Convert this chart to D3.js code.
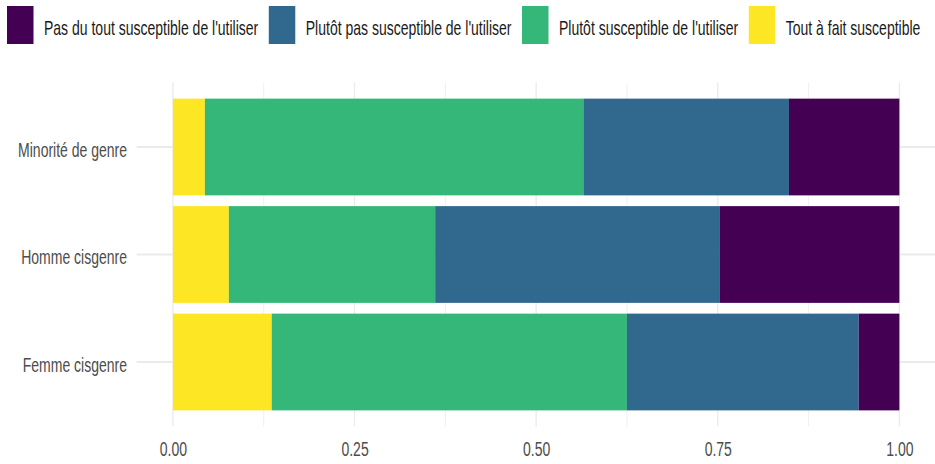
<!DOCTYPE html>
<html>
<head>
<meta charset="utf-8">
<script src="https://cdn.jsdelivr.net/npm/d3@7"></script>
<style>
  html, body { margin: 0; padding: 0; background: #ffffff; }
  svg { display: block; font-family: "Liberation Sans", Arial, sans-serif; }
</style>
</head>
<body>
<svg id="chart" width="935" height="464"></svg>
<script>
// ---- data ----
const categories = ["Minorité de genre", "Homme cisgenre", "Femme cisgenre"];
const seriesNames = [
  "Pas du tout susceptible de l'utiliser",
  "Plutôt pas susceptible de l'utiliser",
  "Plutôt susceptible de l'utiliser",
  "Tout à fait susceptible"
];
const seriesColors = ["#440154", "#31688E", "#35B779", "#FDE725"];
const pasDuTout = [0.152, 0.247, 0.056];
const plutotPas = [0.283, 0.392, 0.319];
const plutot = [0.521, 0.284, 0.489];
const toutAFait = [0.044, 0.077, 0.136];
const xTickValues = [0, 0.25, 0.5, 0.75, 1];
const xTickLabels = ["0.00", "0.25", "0.50", "0.75", "1.00"];

// ---- layout ----
const svg = d3.select("#chart");
const SY = 1.42; // vertical text stretch
const panel = { left: 136.6, right: 935.7, top: 82.5, bottom: 426.5 };

const x = d3.scaleLinear().domain([-0.05, 1.05]).range([panel.left, panel.right]);
const y = d3.scaleBand().domain(categories)
  .range([panel.top, panel.bottom]).paddingInner(0.1).paddingOuter(0.15);

// ---- grid ----
const grid = svg.append("g");
const minor = [0.125, 0.375, 0.625, 0.875];
grid.selectAll("line.minor").data(minor).join("line")
  .attr("x1", d => x(d)).attr("x2", d => x(d))
  .attr("y1", panel.top).attr("y2", panel.bottom)
  .attr("stroke", "#f0f0f0").attr("stroke-width", 1);
grid.selectAll("line.major").data(xTickValues).join("line")
  .attr("x1", d => x(d)).attr("x2", d => x(d))
  .attr("y1", panel.top).attr("y2", panel.bottom)
  .attr("stroke", "#ebebeb").attr("stroke-width", 1.3);
grid.selectAll("line.h").data(categories).join("line")
  .attr("x1", panel.left).attr("x2", panel.right)
  .attr("y1", d => y(d) + y.bandwidth() / 2).attr("y2", d => y(d) + y.bandwidth() / 2)
  .attr("stroke", "#ebebeb").attr("stroke-width", 2);

// ---- stacked bars ----
const rows = categories.map((c, i) => ({
  cat: c,
  [seriesNames[3]]: toutAFait[i],
  [seriesNames[2]]: plutot[i],
  [seriesNames[1]]: plutotPas[i],
  [seriesNames[0]]: pasDuTout[i]
}));
const stackKeys = [seriesNames[3], seriesNames[2], seriesNames[1], seriesNames[0]];
const stacked = d3.stack().keys(stackKeys)(rows);
const color = d3.scaleOrdinal().domain(seriesNames).range(seriesColors);

svg.append("g").selectAll("g").data(stacked).join("g")
  .attr("fill", d => color(d.key))
  .selectAll("rect").data(d => d).join("rect")
  .attr("x", d => x(d[0]))
  .attr("width", d => x(d[1]) - x(d[0]))
  .attr("y", d => y(d.data.cat))
  .attr("height", y.bandwidth());

// ---- x axis ----
const xAxis = d3.axisBottom(x).tickValues(xTickValues)
  .tickFormat((d, i) => xTickLabels[i]).tickSize(0);
const gx = svg.append("g").attr("transform", `translate(0,${panel.bottom})`).call(xAxis);
gx.select(".domain").remove();
gx.selectAll("text")
  .attr("y", 0).attr("dy", 0)
  .attr("transform", `translate(0,29.5) scale(1,${SY})`)
  .attr("fill", "#4d4d4d").style("font-size", "14px")
  .style("font-family", "'Liberation Sans', Arial, sans-serif");

// ---- y axis ----
const yAxis = d3.axisLeft(y).tickSize(0);
const gy = svg.append("g").attr("transform", `translate(${panel.left},0)`).call(yAxis);
gy.select(".domain").remove();
gy.selectAll("text")
  .attr("x", 0).attr("dy", 0)
  .attr("transform", `translate(-9.6,9.5) scale(1,${SY})`)
  .attr("text-anchor", "end")
  .attr("fill", "#4d4d4d").style("font-size", "14px")
  .style("font-family", "'Liberation Sans', Arial, sans-serif");

// ---- legend ----
const legend = svg.append("g");
let lx = 7;
seriesNames.forEach((name, i) => {
  legend.append("rect")
    .attr("x", lx).attr("y", 6).attr("width", 26.5).attr("height", 38)
    .attr("fill", color(name));
  const t = legend.append("text")
    .attr("transform", `translate(${lx + 37},35) scale(1,${SY})`)
    .attr("fill", "#1a1a1a").style("font-size", "14px")
    .text(name);
  const w = t.node().getComputedTextLength();
  lx = lx + 37 + w + 10.5;
});
</script>
</body>
</html>
